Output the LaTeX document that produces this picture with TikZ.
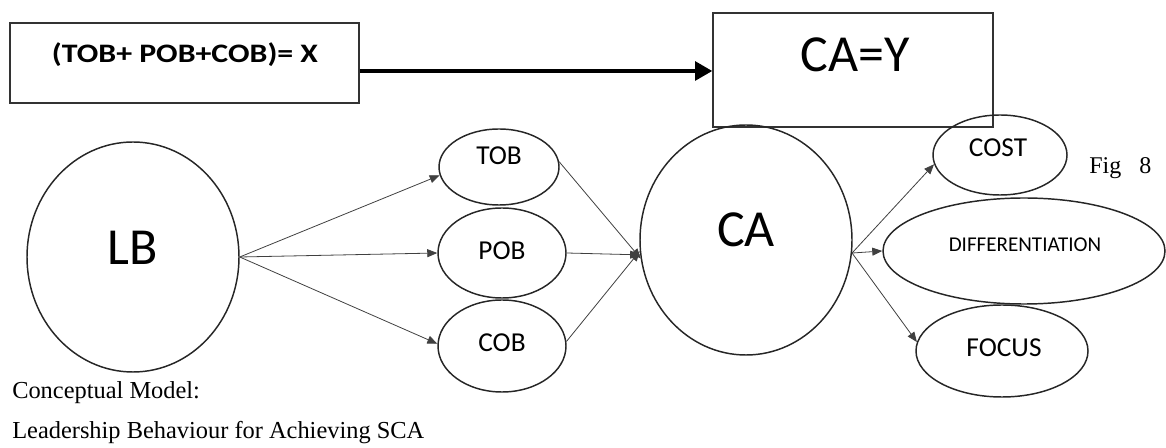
\documentclass[tikz,border=0pt]{standalone}
\usepackage{fontspec}
\usepackage{graphicx}
\setmainfont{Liberation Serif}
\newfontfamily\carl{Carlito}
\usetikzlibrary{shapes.geometric,arrows.meta,calc}
\tikzset{
  oval/.style={ellipse,draw=black!85,line width=1.1pt,inner sep=0pt},
  framebox/.style={rectangle,draw=black!80,line width=1pt,inner sep=0pt},
  word/.style={inner sep=0pt,anchor=base,font=\carl},
  midword/.style={word,font=\carl\fontsize{20.5}{23}\selectfont},
  bigword/.style={word,font=\carl\fontsize{39}{42}\selectfont},
  caption/.style={inner sep=0pt,anchor=base west,font=\fontsize{18.3}{21}\selectfont},
  link/.style={draw=black!75,line width=0.6pt,-{Triangle[length=7.5pt,width=6pt]}},
  bigarrow/.style={draw=black,line width=3pt,-{Triangle[length=13pt,width=14pt]}}
}
\begin{document}
\begin{tikzpicture}[x=0.75pt,y=-0.75pt]
\useasboundingbox (0,0) rectangle (1166,448);

% top equation boxes
\node[framebox,minimum width=261.75pt,minimum height=60pt] (boxx) at (184.5,63) {};
\node[framebox,minimum width=210pt,minimum height=85.5pt] (boxy) at (853,70) {};
\node[word,font=\carl\bfseries\fontsize{20}{22}\selectfont] (tx) at (185,63)
  {\resizebox{199.5pt}{\height}{(TOB+ POB+COB)= X}};
\node[bigword] (ty) at (855,72) {CA=Y};
\coordinate (a0) at ($(boxx.east)+(0,8)$);
\draw[bigarrow] (a0) -- (a0 -| boxy.west);

% main ovals
\node[oval,minimum width=159pt,minimum height=172.5pt] (lb) at (133,257) {};
\node[oval,minimum width=159pt,minimum height=172.5pt] (ca) at (746,240) {};
\node[oval,minimum width=90pt,minimum height=57pt] (tob) at (499,167) {};
\node[oval,minimum width=96pt,minimum height=67.5pt] (pob) at (502,253) {};
\node[oval,minimum width=96pt,minimum height=69pt] (cob) at (502,346) {};
\node[oval,minimum width=100.5pt,minimum height=60pt] (cost) at (1000,155) {};
\node[oval,minimum width=211.5pt,minimum height=79.5pt] (diff) at (1024,251) {};
\node[oval,minimum width=129pt,minimum height=69pt] (focus) at (1002,351) {};

% labels
\node[bigword] (tlb) at (133,265) {LB};
\node[bigword] (tca) at (746,247) {CA};
\node[midword] (ttob) at (499,165) {TOB};
\node[midword] (tpob) at (502,260) {POB};
\node[midword] (tcob) at (502,352) {COB};
\node[midword] (tcost) at (998,157) {COST};
\node[word,font=\carl\fontsize{15.8}{18}\selectfont] (tdiff) at (1025,252) {DIFFERENTIATION};
\node[midword] (tfocus) at (1004,357) {FOCUS};

% connectors
\draw[link] (lb.east) -- (tob.188);
\draw[link] (lb.east) -- (pob.west);
\draw[link] (lb.east) -- (cob.178);
\draw[link] (tob.5) -- (ca.190);
\draw[link] (pob.east) -- (ca.188);
\draw[link] (cob.4) -- (ca.186);
\draw[link] (ca.353) -- (cost.188);
\draw[link] (ca.353) -- (diff.west);
\draw[link] (ca.353) -- (focus.174);

% captions
\node[caption,font=\fontsize{18}{20}\selectfont] (fig) at (1089,174) {Fig\ \ \ 8};
\node[caption] (cap1) at (12,399) {Conceptual Model:};
\node[caption] (cap2) at (12,438) {Leadership Behaviour for Achieving SCA};
\end{tikzpicture}
\end{document}
